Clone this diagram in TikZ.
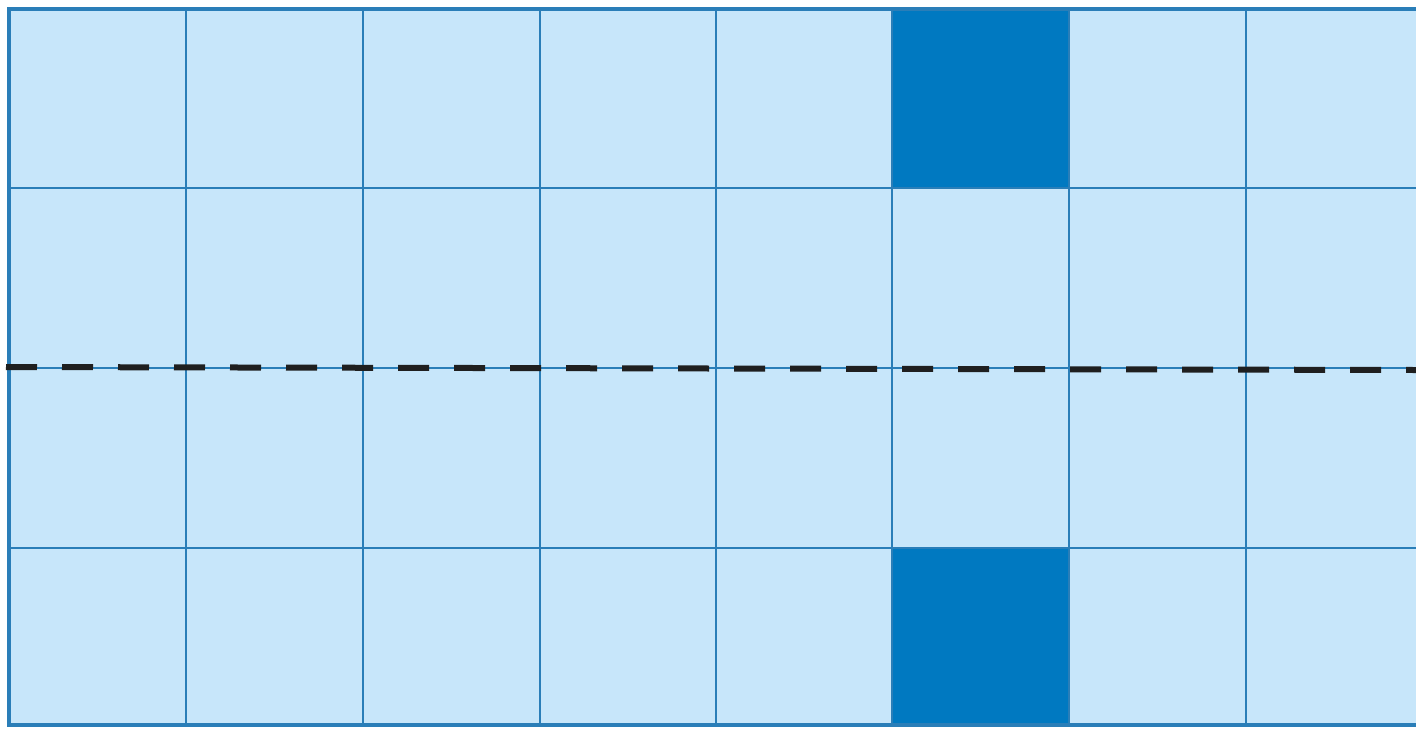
\documentclass[tikz,border=0pt]{standalone}
\usetikzlibrary{calc}
\definecolor{celllight}{HTML}{C7E6FA}
\definecolor{celldark}{HTML}{0079C1}
\definecolor{gridline}{HTML}{2A7EB8}

\begin{document}
\begin{tikzpicture}[x=0.5pt,y=-0.5pt]
\useasboundingbox (0,0) rectangle (1416,728);
\clip (0,0) rectangle (1416,728);
\fill[celllight] (9,9) rectangle (1423,725);
\fill[celldark] (892,9) rectangle (1069,188);
\fill[celldark] (892,548) rectangle (1069,725);
\foreach \cx in {186,363,540,716,892,1069,1246}
  \draw[gridline, line width=1.2pt] (\cx,9) -- (\cx,725);
\foreach \cy in {188,368,548}
  \draw[gridline, line width=1.2pt] (9,\cy) -- (1423,\cy);
\draw[gridline, line width=2.2pt] (9,9) rectangle (1423,725);
\draw[black!88, line width=3pt, dash pattern=on 15.5pt off 12.5pt] (6,367) -- (1416,370);
\end{tikzpicture}
\end{document}
